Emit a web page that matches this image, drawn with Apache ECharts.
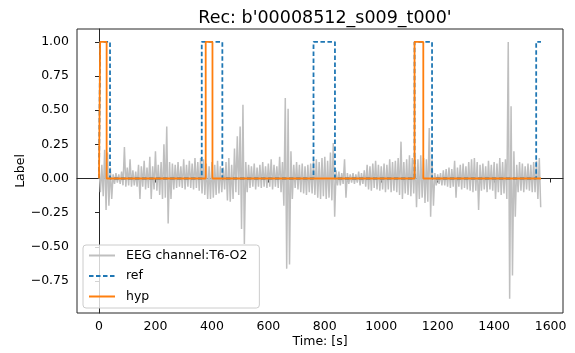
<!DOCTYPE html>
<html>
<head>
<meta charset="utf-8">
<script src="https://cdn.jsdelivr.net/npm/echarts@6/dist/echarts.min.js"></script>
<style>
html,body{margin:0;padding:0;background:#fff;}
#chart{width:575px;height:353px;}
</style>
</head>
<body>
<div id="chart"></div>
<script>
// EEG channel T6-O2: upper / lower envelope read every 10 s (upper at t, lower at t+5)
const eegStep = 10;
const eegUpper = [
0.08,0.10,0.21,0.19,0.08,0.03,0.04,0.03,0.05,0.23,
0.08,0.14,0.06,0.05,0.10,0.09,0.13,0.08,0.16,0.09,
0.20,0.10,0.12,0.25,0.38,0.12,0.11,0.10,0.12,0.09,
0.14,0.10,0.13,0.11,0.15,0.12,0.15,0.14,0.11,0.09,
0.12,0.10,0.13,0.09,0.08,0.12,0.15,0.10,0.22,0.31,
0.38,0.54,0.12,0.10,0.09,0.11,0.08,0.10,0.12,0.09,
0.11,0.14,0.10,0.09,0.16,0.12,0.59,0.51,0.20,0.10,
0.12,0.10,0.11,0.09,0.10,0.11,0.13,0.14,0.12,0.15,
0.16,0.13,0.19,0.26,0.06,0.05,0.04,0.14,0.04,0.03,
0.04,0.03,0.05,0.04,0.06,0.10,0.09,0.11,0.13,0.10,
0.09,0.11,0.10,0.14,0.12,0.13,0.15,0.27,0.12,0.14,
0.17,0.15,0.16,0.14,0.17,0.15,0.14,0.37,0.14,0.04,
0.03,0.04,0.06,0.07,0.08,0.07,0.13,0.08,0.10,0.11,
0.09,0.12,0.14,0.15,0.12,0.10,0.11,0.09,0.13,0.10,
0.12,0.11,0.15,0.12,0.14,1.00,0.53,0.20,0.10,0.12,
0.11,0.09,0.11,0.10,0.12,0.13,0.15
];
const eegLower = [
-0.10,-0.13,-0.23,-0.20,-0.15,-0.04,-0.03,-0.04,-0.05,-0.06,
-0.05,-0.06,-0.05,-0.06,-0.15,-0.06,-0.08,-0.07,-0.15,-0.08,
-0.09,-0.12,-0.15,-0.14,-0.33,-0.15,-0.08,-0.07,-0.06,-0.07,
-0.08,-0.06,-0.07,-0.08,-0.07,-0.09,-0.11,-0.12,-0.15,-0.15,
-0.14,-0.12,-0.11,-0.10,-0.08,-0.16,-0.17,-0.15,-0.10,-0.12,
-0.37,-0.48,-0.10,-0.07,-0.06,-0.08,-0.06,-0.07,-0.06,-0.07,
-0.06,-0.08,-0.06,-0.07,-0.10,-0.20,-0.66,-0.63,-0.15,-0.07,
-0.08,-0.10,-0.11,-0.12,-0.10,-0.11,-0.12,-0.14,-0.15,-0.13,
-0.15,-0.14,-0.16,-0.28,-0.05,-0.05,-0.04,-0.14,-0.04,-0.03,
-0.04,-0.03,-0.05,-0.04,-0.06,-0.08,-0.09,-0.07,-0.08,-0.09,
-0.08,-0.10,-0.08,-0.10,-0.09,-0.10,-0.12,-0.15,-0.11,-0.12,
-0.13,-0.11,-0.21,-0.15,-0.14,-0.18,-0.17,-0.28,-0.20,-0.05,
-0.04,-0.05,-0.05,-0.06,-0.07,-0.06,-0.14,-0.06,-0.08,-0.07,
-0.08,-0.09,-0.10,-0.09,-0.23,-0.09,-0.08,-0.10,-0.08,-0.09,
-0.15,-0.10,-0.12,-0.11,-0.15,-0.88,-0.71,-0.28,-0.10,-0.09,
-0.10,-0.08,-0.09,-0.10,-0.10,-0.15,-0.21
];
// reference labels (step transitions)
const refTimes  = [0, 4, 4, 39, 39, 364, 364, 437, 437, 760, 760, 836, 836, 1118, 1118, 1180, 1180, 1549, 1549, 1566];
const refValues = [0, 0, 1, 1,  0,  0,   1,   1,   0,   0,   1,   1,   0,   0,    1,    1,    0,    0,    1,    1];
// hypothesis labels
const hypTimes  = [0, 4, 4, 27, 27, 378, 378, 402, 402, 1118, 1118, 1149, 1149, 1566];
const hypValues = [0, 0, 1, 1,  0,  0,   1,   1,   0,   0,    1,    1,    0,    0];
const xTicks = [0, 200, 400, 600, 800, 1000, 1200, 1400, 1600];
const yTicks = [-0.75, -0.5, -0.25, 0, 0.25, 0.5, 0.75, 1.0];
const titleText = "Rec: b'00008512_s009_t000'";

const eegData = [];
for (let i = 0; i < eegUpper.length; i++) {
  eegData.push([i * eegStep, eegUpper[i]]);
  eegData.push([i * eegStep + eegStep / 2, eegLower[i]]);
}
const refData = refTimes.map((t, i) => [t, refValues[i]]);
const hypData = hypTimes.map((t, i) => [t, hypValues[i]]);

const FONT = 'DejaVu Sans';
const chart = echarts.init(document.getElementById('chart'), null, {renderer: 'canvas'});
const fmtY = v => (v < 0 ? '\u2212' : '') + Math.abs(v).toFixed(2);
chart.setOption({
  animation: false,
  backgroundColor: '#ffffff',
  title: {
    text: titleText, left: 320, top: 4, textAlign: 'center',
    textStyle: {fontFamily: FONT, fontSize: 17.5, fontWeight: 'normal', color: '#000'}
  },
  grid: {left: 77, right: 12, top: 29, bottom: 39, show: true, borderColor: '#262626', borderWidth: 1, backgroundColor: 'transparent'},
  legend: {
    orient: 'vertical', left: 83, top: 245,
    padding: [4, 12, 5, 5], itemGap: 7.5, itemWidth: 26, itemHeight: 13,
    backgroundColor: 'rgba(255,255,255,0.8)', borderColor: '#cccccc', borderWidth: 1, borderRadius: 3,
    itemStyle: {opacity: 0, borderWidth: 0},
    textStyle: {fontFamily: FONT, fontSize: 12.5, color: '#000', padding: [0, 0, 0, 6]},
    data: ['EEG channel:T6-O2', 'ref', 'hyp']
  },
  xAxis: {
    type: 'value', min: -78, max: 1644,
    name: 'Time: [s]', nameLocation: 'middle', nameGap: 22, nameMoveOverlap: false,
    nameTextStyle: {fontFamily: FONT, fontSize: 12.5, color: '#000'},
    axisLine: {show: true, lineStyle: {color: '#262626', width: 1}},
    axisTick: {show: true, length: 4, lineStyle: {color: '#262626'}, customValues: xTicks},
    axisLabel: {fontFamily: FONT, fontSize: 12.5, color: '#000', margin: 7, customValues: xTicks, formatter: v => String(v)},
    splitLine: {show: false}
  },
  yAxis: {
    type: 'value', min: -0.985, max: 1.095,
    name: 'Label', nameLocation: 'middle', nameGap: 50, nameRotate: 90, nameMoveOverlap: false,
    nameTextStyle: {fontFamily: FONT, fontSize: 12.5, color: '#000'},
    axisLine: {show: true, lineStyle: {color: '#262626', width: 1}},
    axisTick: {show: true, length: 4, lineStyle: {color: '#262626'}, customValues: yTicks},
    axisLabel: {fontFamily: FONT, fontSize: 12.5, color: '#000', margin: 8, formatter: fmtY, customValues: yTicks},
    splitLine: {show: false}
  },
  series: [
    {name: 'EEG channel:T6-O2', type: 'line', data: eegData, symbol: 'none', silent: true,
     lineStyle: {color: '#bfbfbf', width: 1.5}, itemStyle: {color: '#bfbfbf'}, z: 1},
    {name: 'ref', type: 'line', data: refData, symbol: 'none', silent: true,
     lineStyle: {color: '#1f77b4', width: 1.8, type: [4.5, 2.5]}, itemStyle: {color: '#1f77b4'}, z: 2},
    {name: 'hyp', type: 'line', data: hypData, symbol: 'none', silent: true,
     lineStyle: {color: '#ff7f0e', width: 1.8}, itemStyle: {color: '#ff7f0e'}, z: 3}
  ]
});
</script>
</body>
</html>
